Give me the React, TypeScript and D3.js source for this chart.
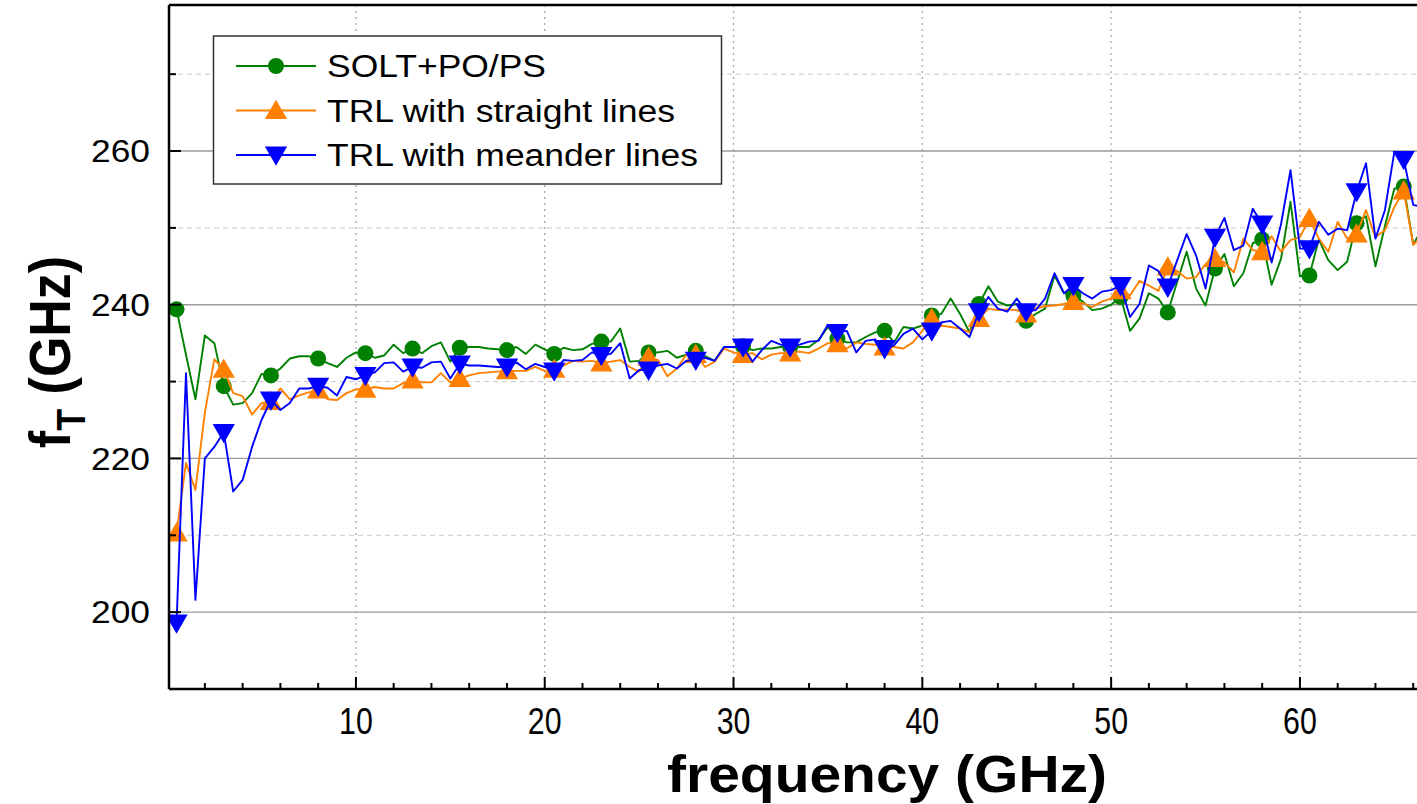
import React from "react";
import * as d3 from "d3";

// frequency grid (GHz)
const freq = [
  0.5, 1, 1.5, 2, 2.5, 3, 3.5, 4, 4.5, 5,
  5.5, 6, 6.5, 7, 7.5, 8, 8.5, 9, 9.5, 10,
  10.5, 11, 11.5, 12, 12.5, 13, 13.5, 14, 14.5, 15,
  15.5, 16, 16.5, 17, 17.5, 18, 18.5, 19, 19.5, 20,
  20.5, 21, 21.5, 22, 22.5, 23, 23.5, 24, 24.5, 25,
  25.5, 26, 26.5, 27, 27.5, 28, 28.5, 29, 29.5, 30,
  30.5, 31, 31.5, 32, 32.5, 33, 33.5, 34, 34.5, 35,
  35.5, 36, 36.5, 37, 37.5, 38, 38.5, 39, 39.5, 40,
  40.5, 41, 41.5, 42, 42.5, 43, 43.5, 44, 44.5, 45,
  45.5, 46, 46.5, 47, 47.5, 48, 48.5, 49, 49.5, 50,
  50.5, 51, 51.5, 52, 52.5, 53, 53.5, 54, 54.5, 55,
  55.5, 56, 56.5, 57, 57.5, 58, 58.5, 59, 59.5, 60,
  60.5, 61, 61.5, 62, 62.5, 63, 63.5, 64, 64.5, 65,
  65.5, 66, 66.5,
];

const solt = [
  239.4, 233.5, 227.7, 236.0, 235.0, 229.4, 227.0, 227.2, 228.5, 231.0,
  230.8, 231.7, 233.0, 233.3, 233.3, 233.0, 232.4, 231.9, 233.1, 233.8,
  233.7, 233.1, 233.4, 234.8, 233.7, 234.3, 233.7, 234.6, 235.1, 232.6,
  234.4, 234.5, 234.5, 234.3, 234.2, 234.1, 234.5, 233.6, 234.8, 234.2,
  233.6, 234.4, 234.1, 234.2, 234.9, 235.2, 235.2, 236.9, 232.6, 232.7,
  233.8, 233.8, 234.0, 233.1, 233.5, 234.0, 233.3, 232.7, 234.5, 234.5,
  234.6, 234.1, 234.3, 234.3, 234.5, 234.5, 234.5, 234.5, 235.4, 237.1,
  235.6, 235.1, 235.1, 235.8, 236.4, 236.6, 235.1, 237.1, 236.9, 237.3,
  238.6, 238.8, 240.8, 238.8, 236.4, 240.1, 242.4, 240.4, 239.9, 240.1,
  237.9, 238.8, 239.5, 243.8, 241.5, 241.2, 240.4, 239.3, 239.5, 240.0,
  241.0, 236.6, 238.2, 241.5, 240.8, 239.0, 243.0, 246.9, 242.1, 239.9,
  244.7, 246.6, 242.4, 244.1, 248.0, 248.5, 242.6, 246.0, 253.4, 243.7,
  243.8, 248.5, 245.8, 244.5, 245.6, 250.6, 251.5, 245.0, 250.2, 255.1,
  255.4, 247.8, 250.0,
];

const trlStraight = [
  210.3, 219.4, 215.9, 226.0, 232.9, 231.6, 228.5, 228.1, 225.7, 227.2,
  227.4, 229.1, 227.7, 228.2, 228.6, 228.9, 227.7, 227.6, 228.5, 229.0,
  229.0, 229.3, 229.1, 229.1, 229.8, 230.2, 229.9, 229.9, 231.1, 229.9,
  230.4, 230.8, 231.1, 231.2, 231.3, 231.4, 231.4, 231.4, 231.9, 231.4,
  231.6, 232.1, 232.7, 232.6, 232.7, 232.4, 232.6, 232.8, 231.9, 231.3,
  233.2, 232.8, 230.7, 231.7, 233.5, 233.5, 231.9, 232.6, 234.3, 233.8,
  233.5, 233.7, 232.9, 233.5, 233.7, 233.7, 233.9, 233.7, 234.3, 235.0,
  234.9, 234.3, 235.1, 234.9, 234.8, 234.5, 234.5, 234.3, 235.1, 236.6,
  238.2, 237.3, 237.1, 236.9, 236.4, 238.2, 239.5, 239.3, 239.4, 239.3,
  238.8, 239.5, 239.8, 239.9, 240.1, 240.4, 240.2, 239.7, 240.4, 240.8,
  241.8, 241.2, 243.1, 242.5, 241.8, 244.9, 244.4, 243.4, 243.6, 245.3,
  246.0, 245.5, 244.2, 248.6, 247.1, 246.9, 248.9, 246.9, 248.4, 248.8,
  251.2, 248.6, 246.9, 250.8, 248.6, 249.2, 252.3, 248.8, 249.7, 252.7,
  254.8, 247.8, 249.0,
];

const trlMeander = [
  198.6, 231.1, 201.6, 220.0, 221.5, 223.4, 215.7, 217.2, 221.5, 225.0,
  227.6, 226.3, 227.2, 229.1, 229.1, 229.4, 229.2, 228.2, 230.6, 230.3,
  230.8, 231.2, 232.4, 232.5, 231.3, 231.9, 231.8, 232.5, 232.6, 230.4,
  232.3, 232.1, 232.1, 232.0, 231.9, 231.9, 232.5, 231.6, 232.3, 231.9,
  231.4, 232.8, 232.7, 232.8, 233.8, 233.4, 233.6, 235.0, 230.4, 231.5,
  231.5, 232.1, 232.3, 231.7, 232.7, 232.8, 233.1, 232.7, 234.5, 234.5,
  234.5, 232.6, 234.1, 235.3, 234.8, 234.5, 234.8, 235.2, 235.3, 237.4,
  236.4, 236.6, 233.8, 235.3, 235.5, 234.3, 234.7, 236.2, 236.9, 235.5,
  236.6, 237.7, 237.9, 236.9, 235.8, 239.1, 241.0, 239.5, 239.1, 240.8,
  239.1, 239.3, 240.8, 244.1, 241.5, 242.5, 241.5, 240.8, 241.7, 241.9,
  242.5, 238.4, 240.1, 245.1, 244.4, 242.3, 245.8, 249.2, 246.4, 242.1,
  248.8, 251.3, 247.1, 247.7, 252.5, 250.5, 245.5, 250.5, 257.5, 247.3,
  247.3, 250.8, 249.1, 249.9, 249.7, 254.7, 258.4, 248.6, 252.3, 259.9,
  258.9, 253.0, 252.7,
];

const seriesNames = ["SOLT+PO/PS", "TRL with straight lines", "TRL with meander lines"];
const yMajor = [200, 220, 240, 260];
const yMinor = [210, 230, 250, 270];
const xMajor = [10, 20, 30, 40, 50, 60];
const xMinor = [2, 4, 6, 8, 12, 14, 16, 18, 22, 24, 26, 28, 32, 34, 36, 38, 42, 44, 46, 48, 52, 54, 56, 58, 62, 64, 66];

const W = 1417;
const H = 804;
const left = 169;
const bottom = 689;
const top = 5;
const font = "'Liberation Sans', Arial, sans-serif";

const x = d3.scaleLinear().domain([0.1, 66.2]).range([left, W]);
const y = d3.scaleLinear().domain([190, 279]).range([bottom, top]);

const series = [
  { name: seriesNames[0], values: solt, color: "#008000", marker: "circle", textW: 219 },
  { name: seriesNames[1], values: trlStraight, color: "#ff8000", marker: "up", textW: 348 },
  { name: seriesNames[2], values: trlMeander, color: "#0000ff", marker: "down", textW: 371 },
];

const line = d3
  .line<number>()
  .x((_, i) => x(freq[i]))
  .y((d) => y(d));

const triPath = d3.symbol().type(d3.symbolTriangle).size(215)() as string;

function Marker({ kind, cx, cy, color }: { kind: string; cx: number; cy: number; color: string }) {
  if (kind === "circle") return <circle cx={cx} cy={cy} r={8} fill={color} />;
  const rot = kind === "down" ? 180 : 0;
  const dy = kind === "down" ? -2 : 2;
  return <path d={triPath} transform={`translate(${cx},${cy + dy}) rotate(${rot})`} fill={color} />;
}

export default function App() {
  return (
    <svg
      width={W}
      height={H}
      style={{ position: "absolute", left: 0, top: 0, background: "#fff" }}
      fontFamily={font}
    >
      <defs>
        <clipPath id="plot">
          <rect x={left} y={top} width={W - left} height={bottom - top} />
        </clipPath>
      </defs>

      {/* grid */}
      {yMinor.map((v) => (
        <line key={"ym" + v} x1={left} x2={W} y1={y(v)} y2={y(v)} stroke="#c8c8c8" strokeWidth={1} strokeDasharray="5,4" />
      ))}
      {yMajor.map((v) => (
        <line key={"yg" + v} x1={left} x2={W} y1={y(v)} y2={y(v)} stroke="#9a9a9a" strokeWidth={1.3} />
      ))}
      {xMajor.map((v) => (
        <line key={"xg" + v} x1={x(v)} x2={x(v)} y1={top} y2={bottom} stroke="#aaaaaa" strokeWidth={1.3} strokeDasharray="2,4" />
      ))}

      {/* data */}
      <g clipPath="url(#plot)">
        {series.map((s) => (
          <g key={s.name}>
            <path d={line(s.values) as string} fill="none" stroke={s.color} strokeWidth={1.9} strokeLinejoin="round" />
            {s.values.map((v, i) =>
              i % 5 === 0 ? <Marker key={i} kind={s.marker} cx={x(freq[i])} cy={y(v)} color={s.color} /> : null
            )}
          </g>
        ))}
      </g>

      {/* frame */}
      <line x1={left} x2={left} y1={top} y2={bottom} stroke="#000" strokeWidth={2.5} />
      <line x1={left} x2={W} y1={bottom} y2={bottom} stroke="#000" strokeWidth={2.5} />
      <line x1={left} x2={W} y1={top} y2={top} stroke="#000" strokeWidth={2.5} />

      {/* y ticks */}
      {yMajor.map((v) => (
        <g key={"yt" + v}>
          <line x1={left} x2={left + 12} y1={y(v)} y2={y(v)} stroke="#000" strokeWidth={2} />
          <text x={150} y={y(v)} dy="0.36em" textAnchor="end" fontSize={31} textLength={59} lengthAdjust="spacingAndGlyphs">
            {v}
          </text>
        </g>
      ))}
      {yMinor.map((v) => (
        <line key={"ytm" + v} x1={left} x2={left + 7} y1={y(v)} y2={y(v)} stroke="#000" strokeWidth={2} />
      ))}

      {/* x ticks */}
      {xMajor.map((v) => (
        <g key={"xt" + v}>
          <line x1={x(v)} x2={x(v)} y1={bottom} y2={bottom - 12} stroke="#000" strokeWidth={2} />
          <text transform={`translate(${x(v)},734) scale(0.82,1)`} textAnchor="middle" fontSize={37}>
            {v}
          </text>
        </g>
      ))}
      {xMinor.map((v) => (
        <line key={"xtm" + v} x1={x(v)} x2={x(v)} y1={bottom} y2={bottom - 6} stroke="#000" strokeWidth={2} />
      ))}

      {/* axis titles */}
      <text x={887} y={792} textAnchor="middle" fontSize={52} fontWeight="bold" textLength={440} lengthAdjust="spacingAndGlyphs">
        frequency (GHz)
      </text>
      <text transform="translate(70,352) scale(1.12,1) rotate(-90)" textAnchor="middle" fontSize={52} fontWeight="bold">
        f
        <tspan fontSize={36} dy={13}>T</tspan>
        <tspan dy={-13}> (GHz)</tspan>
      </text>

      {/* legend */}
      <rect x={213.5} y={36} width={508} height={148} fill="#fff" stroke="#333" strokeWidth={1.5} />
      {series.map((s, i) => {
        const ly = 66 + i * 44.5;
        return (
          <g key={"lg" + i}>
            <line x1={236} x2={316} y1={ly} y2={ly} stroke={s.color} strokeWidth={1.9} />
            <Marker kind={s.marker} cx={276} cy={ly} color={s.color} />
            <text x={327} y={ly} dy="0.36em" fontSize={31} textLength={s.textW} lengthAdjust="spacingAndGlyphs">
              {s.name}
            </text>
          </g>
        );
      })}
    </svg>
  );
}
